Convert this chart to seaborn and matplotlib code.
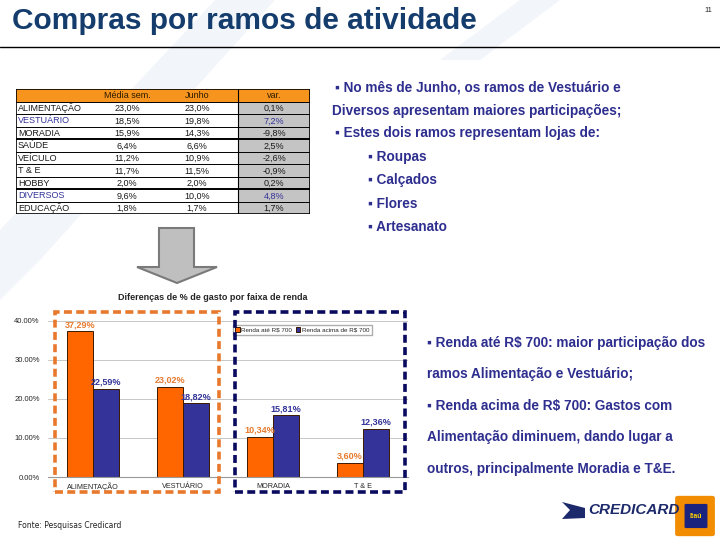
import pandas as pd
import matplotlib.pyplot as plt
import matplotlib.patches as mpatches
import seaborn as sns

# DADOS DO GRÁFICO
ramos = ["ALIMENTAÇÃO", "VESTUÁRIO", "MORADIA", "T & E"]
renda_ate_700 = [37.29, 23.02, 10.34, 3.60]
renda_acima_700 = [22.59, 18.82, 15.81, 12.36]
faixas = ["Renda até R$ 700", "Renda acima de R$ 700"]
y_ticks = [0, 10, 20, 30, 40]

# DADOS DA TABELA
tab_cabecalho = ["Média sem.", "Junho", "var."]
tab_ramos = ["ALIMENTAÇÃO", "VESTUÁRIO", "MORADIA", "SAÚDE", "VEÍCULO",
             "T & E", "HOBBY", "DIVERSOS", "EDUCAÇÃO"]
media_sem = ["23,0%", "18,5%", "15,9%", "6,4%", "11,2%", "11,7%", "2,0%", "9,6%", "1,8%"]
junho = ["23,0%", "19,8%", "14,3%", "6,6%", "10,9%", "11,5%", "2,0%", "10,0%", "1,7%"]
variacao = ["0,1%", "7,2%", "-9,8%", "2,5%", "-2,6%", "-0,9%", "0,2%", "4,8%", "1,7%"]
destaques = ["VESTUÁRIO", "DIVERSOS"]

texto_topo = [
    "▪ No mês de Junho, os ramos de Vestuário e",
    "Diversos apresentam maiores participações;",
    "▪ Estes dois ramos representam lojas de:",
]
lojas = ["Roupas", "Calçados", "Flores", "Artesanato"]
texto_renda = [
    "▪ Renda até R$ 700: maior participação dos",
    "ramos Alimentação e Vestuário;",
    "▪ Renda acima de R$ 700: Gastos com",
    "Alimentação diminuem, dando lugar a",
    "outros, principalmente Moradia e T&E.",
]

LARANJA = "#ff6600"
LARANJA_TXT = "#e67a2e"
AZUL = "#333399"
AZUL_TXT = "#2e2e8f"
TITULO = "#143c6c"

sns.set_style("white")
plt.rcParams["font.family"] = ["Liberation Sans", "DejaVu Sans"]

W, H = 720, 540
fig = plt.figure(figsize=(7.2, 5.4), dpi=100)


def fx(x):
    return x / W


def fy(y):
    return 1 - y / H


def poly(pts, **kw):
    fig.add_artist(mpatches.Polygon([(fx(a), fy(b)) for a, b in pts], closed=True,
                                    transform=fig.transFigure, **kw))


# fundo claro com faixas diagonais
poly([(215, 0), (275, 0), (40, 260), (0, 300), (0, 230)], facecolor="#f2f6fa",
     edgecolor="none", zorder=-5)
poly([(520, 0), (560, 0), (480, 60), (440, 60)], facecolor="#f2f6fa",
     edgecolor="none", zorder=-5)

# cabeçalho do slide
fig.text(fx(12), fy(21), "Compras por ramos de atividade", fontsize=21.5,
         fontweight="bold", color=TITULO, va="center", ha="left")
fig.text(fx(708), fy(10), "11", fontsize=5.5, ha="center", va="center")
fig.add_artist(plt.Line2D([0, 1], [fy(47), fy(47)], color="black", lw=1,
                          transform=fig.transFigure))

# tabela
ax_t = fig.add_axes([fx(16), fy(214), fx(294), 125 / H])
ax_t.set_xlim(0, 294)
ax_t.set_ylim(10, 0)
ax_t.axis("off")
ax_t.add_patch(mpatches.Rectangle((0, 0), 294, 1, facecolor="#f7941d", edgecolor="none"))
ax_t.add_patch(mpatches.Rectangle((0, 1), 222, 9, facecolor="white", edgecolor="none"))
ax_t.add_patch(mpatches.Rectangle((222, 1), 72, 9, facecolor="#c4c4c4", edgecolor="none"))
for i in range(1, 10):
    lw = 1.4 if i in (4, 8) else 0.7
    ax_t.axhline(i, color="black", lw=lw)
ax_t.plot([222, 222], [0, 10], color="black", lw=0.8)
ax_t.add_patch(mpatches.Rectangle((0, 0), 294, 10, fill=False, edgecolor="black", lw=1.2))
for x, txt in zip([111, 181, 258], tab_cabecalho):
    ax_t.text(x, 0.55, txt, ha="center", va="center", fontsize=6.5, color="#2a1a00")
for i, (r, m, j, v) in enumerate(zip(tab_ramos, media_sem, junho, variacao)):
    cor = AZUL if r in destaques else "#1a1a1a"
    y = i + 1.55
    ax_t.text(2, y, r, ha="left", va="center", fontsize=6.5, color=cor)
    ax_t.text(111, y, m, ha="center", va="center", fontsize=6.5, color="#1a1a1a")
    ax_t.text(181, y, j, ha="center", va="center", fontsize=6.5, color="#1a1a1a")
    ax_t.text(258, y, v, ha="center", va="center", fontsize=6.5, color=cor)

# seta
poly([(159, 228), (194, 228), (194, 267), (217, 267), (177, 283), (137, 267), (159, 267)],
     facecolor="#bfbfbf", edgecolor="#7a7a7a", lw=1.5)

# gráfico de barras
df = pd.DataFrame({
    "ramo": ramos * 2,
    "faixa": [faixas[0]] * len(ramos) + [faixas[1]] * len(ramos),
    "valor": renda_ate_700 + renda_acima_700,
})
ax = fig.add_axes([fx(48), fy(477), fx(360), 176 / H])
ax.patch.set_alpha(0)
sns.barplot(data=df, x="ramo", y="valor", hue="faixa", palette=[LARANJA, AZUL],
            saturation=1, width=0.57, gap=0, edgecolor="#3b1a00", linewidth=0.7,
            errorbar=None, ax=ax)
ax.set_ylim(0, 45)
ax.set_yticks(y_ticks)
ax.set_yticklabels([f"{t:.2f}%" for t in y_ticks])
ax.tick_params(axis="y", labelsize=5.5, length=3, color="#888888", pad=3)
ax.tick_params(axis="x", labelsize=5.2, length=0, pad=4)
ax.grid(axis="y", color="#c8c8c8", lw=0.7)
ax.set_axisbelow(True)
ax.set_xlabel("")
ax.set_ylabel("")
sns.despine(ax=ax, left=True)
ax.spines["bottom"].set_color("#999999")
for cont, cor in zip(ax.containers, [LARANJA_TXT, AZUL]):
    ax.bar_label(cont, labels=[f"{v:.2f}%".replace(".", ",") for v in cont.datavalues],
                 padding=1.5, fontsize=6.5, fontweight="bold", color=cor)
ax.legend(loc="upper left", bbox_to_anchor=(fx(233), fy(325)),
          bbox_transform=fig.transFigure, ncol=2, fontsize=4.5, frameon=True,
          fancybox=False, edgecolor="#999999", handlelength=0.7, handleheight=0.7,
          handletextpad=0.3, columnspacing=0.6, borderpad=0.35, borderaxespad=0)
fig.text(fx(213), fy(298), "Diferenças de % de gasto por faixa de renda",
         ha="center", va="center", fontsize=6.5, fontweight="bold")

# caixas tracejadas
fig.add_artist(mpatches.Rectangle((fx(55), fy(492)), fx(164), 180 / H, fill=False,
                                  ls=(0, (2.2, 1.2)), lw=2.6, edgecolor="#e8782b",
                                  transform=fig.transFigure))
fig.add_artist(mpatches.Rectangle((fx(235), fy(492)), fx(170), 180 / H, fill=False,
                                  ls=(0, (2.2, 1.2)), lw=2.6, edgecolor="#0a0a5e",
                                  transform=fig.transFigure))

# textos à direita
for y, x, txt in zip([88, 111, 133], [335, 332, 335], texto_topo):
    fig.text(fx(x), fy(y), txt, fontsize=9.8, fontweight="bold", color=AZUL_TXT,
             ha="left", va="center")
for y, txt in zip([157, 180, 204, 227], lojas):
    fig.text(fx(368), fy(y), "▪ " + txt, fontsize=9.8, fontweight="bold", color=AZUL_TXT,
             ha="left", va="center")
for y, txt in zip([343, 374, 406, 437, 469], texto_renda):
    fig.text(fx(427), fy(y), txt, fontsize=9.8, fontweight="bold", color=AZUL_TXT,
             ha="left", va="center")

# rodapé
fig.text(fx(18), fy(526), "Fonte: Pesquisas Credicard", fontsize=5.5, ha="left",
         va="center", family=["DejaVu Sans"], color="#222222")
fig.text(fx(588), fy(510), "CREDICARD", fontsize=11, fontweight="bold", style="italic",
         family=["Liberation Sans Narrow", "Liberation Sans"], color="#1c2a6b",
         ha="left", va="center")
poly([(562, 502), (585, 508), (585, 518), (562, 519), (570, 510)],
     facecolor="#1c2a6b", edgecolor="none")
fig.add_artist(mpatches.FancyBboxPatch((fx(678), fy(534)), fx(34), 36 / H,
                                       boxstyle="round,pad=0.004", facecolor="#f28c00",
                                       edgecolor="none", transform=fig.transFigure))
fig.add_artist(mpatches.FancyBboxPatch((fx(686), fy(527)), fx(20), 22 / H,
                                       boxstyle="round,pad=0.002", facecolor="#1a237e",
                                       edgecolor="none", transform=fig.transFigure))
fig.text(fx(696), fy(516), "Itaú", fontsize=5, fontweight="bold", color="#ffd400",
         ha="center", va="center")

fig.savefig("out.png", dpi=100)
